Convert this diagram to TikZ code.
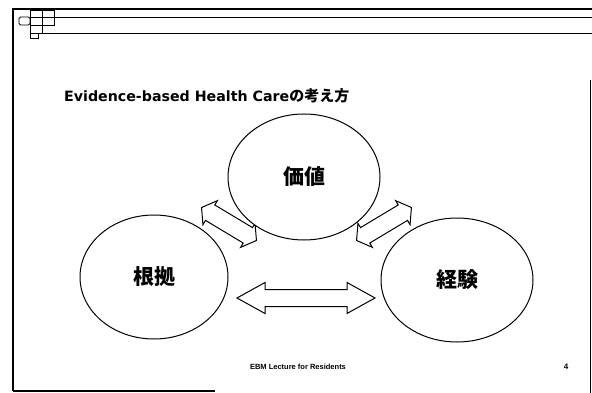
\documentclass[tikz,border=0pt]{standalone}
\usepackage{fontspec}
\setmainfont{Liberation Sans}
\newfontfamily\titlefont{DejaVu Sans}
\newfontfamily\jp{Noto Sans CJK JP}
\usetikzlibrary{shapes.geometric}
\tikzset{
  bubble/.style={ellipse, draw, line width=1pt, fill=white, inner sep=0pt,
    font=\jp\bfseries\fontsize{21}{21}\selectfont},
  blockarr/.style={draw, line width=1pt, fill=white, line join=miter},
  frameline/.style={line width=1.6pt},
  thinline/.style={line width=0.9pt},
  logobox/.style={draw, line width=0.9pt}
}
\newcommand\dblarrow[7]{%
  \begin{scope}[shift={(#1,#2)},rotate=#3]
    \draw[blockarr] (-#4,0) -- (-#4+#5,-#6) -- (-#4+#5,-#7) -- (#4-#5,-#7)
      -- (#4-#5,-#6) -- (#4,0) -- (#4-#5,#6) -- (#4-#5,#7) -- (-#4+#5,#7)
      -- (-#4+#5,#6) -- cycle;
  \end{scope}}
\begin{document}
\begin{tikzpicture}[x=1pt,y=-1pt]
\useasboundingbox (0,0) rectangle (592,393);
% frame
\draw[frameline] (13,391) -- (13,9) -- (592,9);
\draw[thinline] (54,17) -- (592,17);
\draw[thinline] (42,33) -- (592,33);
\draw[frameline] (13,391) -- (215,391);
\draw[thinline] (590,80) -- (590,393);
% logo
\draw[logobox] (30,10) rectangle (42,17);
\draw[logobox] (42,10) rectangle (54,17);
\draw[logobox, rounded corners=1.5pt] (19,17) rectangle (30,25);
\draw[logobox] (30,17) rectangle (42,25);
\draw[logobox] (42,17) rectangle (54,25);
\draw[logobox] (30,25) rectangle (42,33);
\draw[logobox] (30,33) rectangle (38,38);
% title
\node[anchor=base west, inner sep=0pt, font=\titlefont\bfseries\fontsize{14.2}{15}\selectfont] (title) at (64,102)
  {Evidence-based Health Care{\jp\bfseries\fontsize{15}{15}\selectfont の考え方}};
% block arrows
\dblarrow{306}{298}{0}{69}{28}{15.5}{8.5}
\dblarrow{229}{224}{-31}{32}{10}{14}{9}
\dblarrow{384}{224}{31}{32}{10}{14}{9}
% ellipses
\node[bubble, minimum width=152pt, minimum height=126pt] (val) at (304,177) {価値};
\node[bubble, minimum width=148pt, minimum height=124pt] (evid) at (154,277) {根拠};
\node[bubble, minimum width=152pt, minimum height=124pt] (exp) at (457,280) {経験};
% footer
\node[font=\bfseries\fontsize{7.5}{8}\selectfont, inner sep=0pt] (foot) at (298,367) {EBM Lecture for Residents};
\node[font=\bfseries\fontsize{8}{8}\selectfont, inner sep=0pt] (page) at (566,367) {4};
\end{tikzpicture}
\end{document}
